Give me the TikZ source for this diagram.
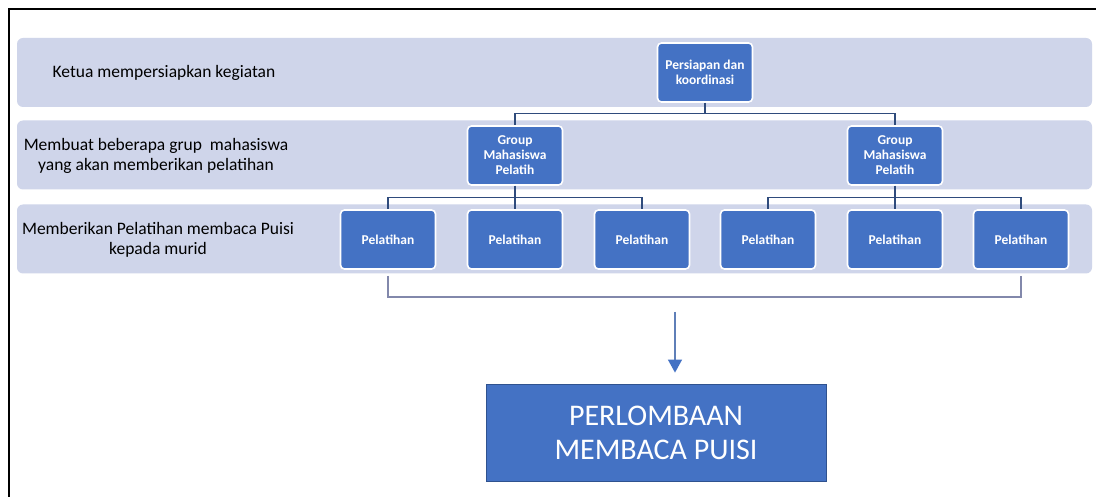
\documentclass[tikz,border=0pt]{standalone}
\usepackage{fontspec}
\setmainfont{Carlito}
\usetikzlibrary{arrows.meta}
\definecolor{nodec}{HTML}{4472C4}
\definecolor{bandc}{HTML}{CFD5EA}
\definecolor{treec}{HTML}{2F4B7C}
\definecolor{brackc}{HTML}{8288AB}
\definecolor{arrowl}{HTML}{5F7FB8}
\definecolor{finborder}{HTML}{2F528F}
\begin{document}
\begin{tikzpicture}[x=1pt,y=-1pt,
  band/.style={fill=bandc, draw=none, rounded corners=6pt, minimum width=1075pt, minimum height=69pt, inner sep=0pt},
  box/.style={fill=nodec, draw=white, line width=1.6pt, rounded corners=4pt, minimum width=95pt, minimum height=59pt, text=white, font=\fontsize{13.5}{15}\selectfont\bfseries, align=center, inner sep=1pt},
  lab/.style={font=\fontsize{17.5}{19.5}\selectfont, align=center, text=black},
  tree/.style={draw=treec, line width=1.3pt},
  brack/.style={draw=brackc, line width=1.1pt},
  fin/.style={fill=nodec, draw=finborder, line width=0.8pt, minimum width=340pt, minimum height=97pt, text=white, font=\fontsize{30}{34}\selectfont, align=center, inner sep=0pt}
]
\useasboundingbox (0,0) rectangle (1096,497);
\fill[white] (0,0) rectangle (1096,497);
\draw[line width=2pt, black] (9,498) -- (9,9) -- (1097,9);

% bands
\node[band] (b1) at (554.5,72.5) {};
\node[band] (b2) at (554.5,155) {};
\node[band] (b3) at (554.5,239) {};

% labels
\node[lab] (l1) at (164,72.5) {Ketua mempersiapkan kegiatan};
\node[lab] (l2) at (156,156) {Membuat beberapa grup\ \ mahasiswa\\yang akan memberikan pelatihan};
\node[lab] (l3) at (158,240) {Memberikan Pelatihan membaca Puisi\\kepada murid};

% nodes
\node[box] (p) at (705,72.5) {Persiapan dan\\koordinasi};
\node[box] (g1) at (515,155.5) {Group\\Mahasiswa\\Pelatih};
\node[box] (g2) at (895,155.5) {Group\\Mahasiswa\\Pelatih};
\node[box] (t1) at (388,239.5) {Pelatihan};
\node[box] (t2) at (515,239.5) {Pelatihan};
\node[box] (t3) at (642,239.5) {Pelatihan};
\node[box] (t4) at (768,239.5) {Pelatihan};
\node[box] (t5) at (895,239.5) {Pelatihan};
\node[box] (t6) at (1021,239.5) {Pelatihan};
\node[fin] (f) at (656,432.5) {PERLOMBAAN\\MEMBACA PUISI};

% tree connectors
\draw[tree] (p.south) -- ++(0,11) -| (g1.north);
\draw[tree] (p.south) -- ++(0,11) -| (g2.north);
\draw[tree] (g1.south) -- ++(0,12) -| (t1.north);
\draw[tree] (g1.south) -- (t2.north);
\draw[tree] (g1.south) -- ++(0,12) -| (t3.north);
\draw[tree] (g2.south) -- ++(0,12) -| (t4.north);
\draw[tree] (g2.south) -- (t5.north);
\draw[tree] (g2.south) -- ++(0,12) -| (t6.north);

% bracket
\coordinate (bk) at (0,297);
\draw[brack] ([yshift=-6pt]t1.south) -- (t1.south |- bk) -- (t6.south |- bk) -- ([yshift=-6pt]t6.south);

% arrow
\coordinate (as) at (675,312);
\draw[draw=arrowl, line width=1.3pt, -{Triangle[width=14pt,length=13pt,color=nodec]}, shorten >=11pt] (as) -- (as |- f.north);
\end{tikzpicture}
\end{document}
